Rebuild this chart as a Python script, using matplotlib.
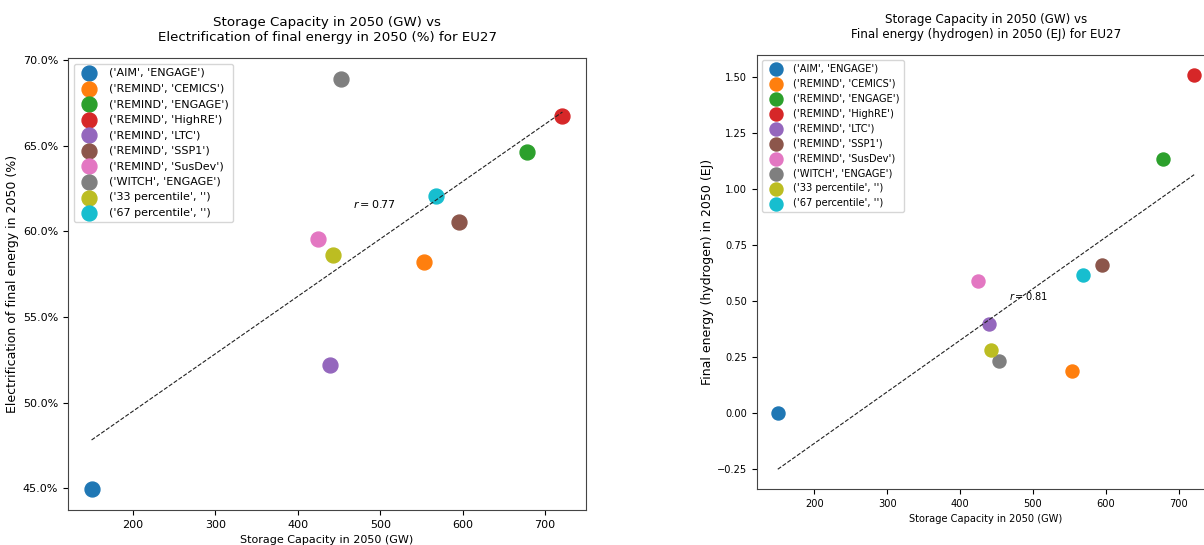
import numpy as np
import matplotlib
matplotlib.use('Agg')
import matplotlib.pyplot as plt
from matplotlib.ticker import PercentFormatter

# scenario labels (model, scenario)
labels = ["('AIM', 'ENGAGE')", "('REMIND', 'CEMICS')", "('REMIND', 'ENGAGE')",
          "('REMIND', 'HighRE')", "('REMIND', 'LTC')", "('REMIND', 'SSP1')",
          "('REMIND', 'SusDev')", "('WITCH', 'ENGAGE')", "('33 percentile', '')",
          "('67 percentile', '')"]

# storage capacity in 2050 (GW), same x for both panels
storage_gw = [150, 553, 678, 721, 439.5, 595, 424, 453, 443, 568]

# electrification of final energy in 2050 (%)
electrification_pct = [44.92, 58.24, 64.63, 66.75, 52.2, 60.55, 59.55, 68.94, 58.61, 62.06]

# final energy hydrogen in 2050 (EJ)
hydrogen_ej = [0.0, 0.185, 1.134, 1.512, 0.396, 0.659, 0.591, 0.232, 0.281, 0.615]


def scatter_panel(ax, x, y, title, ylabel, fs, yfs, dot, rpos, pad, ypad):
    for i, lab in enumerate(labels):
        ax.scatter(x[i], y[i], s=dot, color=f'C{i}', label=lab)

    # regression line over the data range
    x = np.array(x)
    y = np.array(y)
    slope, icpt = np.polyfit(x, y, 1)
    xs = np.array([x.min(), x.max()])
    ax.plot(xs, slope * xs + icpt, '--', color='#222222', lw=0.8)
    r = np.corrcoef(x, y)[0, 1]
    ax.text(rpos[0], rpos[1], f'$r = {r:.2f}$', fontsize=fs, va='center')

    ax.set_title(title, fontsize=fs * 1.2, pad=pad)
    ax.set_xlabel('Storage Capacity in 2050 (GW)', fontsize=fs)
    ax.set_ylabel(ylabel, fontsize=yfs, labelpad=ypad)
    ax.tick_params(labelsize=fs)
    for sp in ax.spines.values():
        sp.set_color('#444444')
    ax.legend(loc='upper left', fontsize=fs)


fig = plt.figure(figsize=(12.04, 5.45), dpi=100)

# left panel
ax1 = fig.add_axes([0.0565, 0.0642, 0.4302, 0.8294])
scatter_panel(ax1, storage_gw, electrification_pct,
              'Storage Capacity in 2050 (GW) vs\nElectrification of final energy in 2050 (%) for EU27',
              'Electrification of final energy in 2050 (%)', 8, 9, 115, (467, 61.6), 12.5, 3)
ax1.yaxis.set_major_formatter(PercentFormatter(xmax=100, decimals=1))

# right panel (runs past the right edge, as in the screenshot)
ax2 = fig.add_axes([0.6287, 0.1028, 0.3804, 0.7963])
scatter_panel(ax2, storage_gw, hydrogen_ej,
              'Storage Capacity in 2050 (GW) vs\nFinal energy (hydrogen) in 2050 (EJ) for EU27',
              'Final energy (hydrogen) in 2050 (EJ)', 7.1, 9, 88, (467, 0.52), 12, 2)

fig.savefig('out.png', dpi=100)
